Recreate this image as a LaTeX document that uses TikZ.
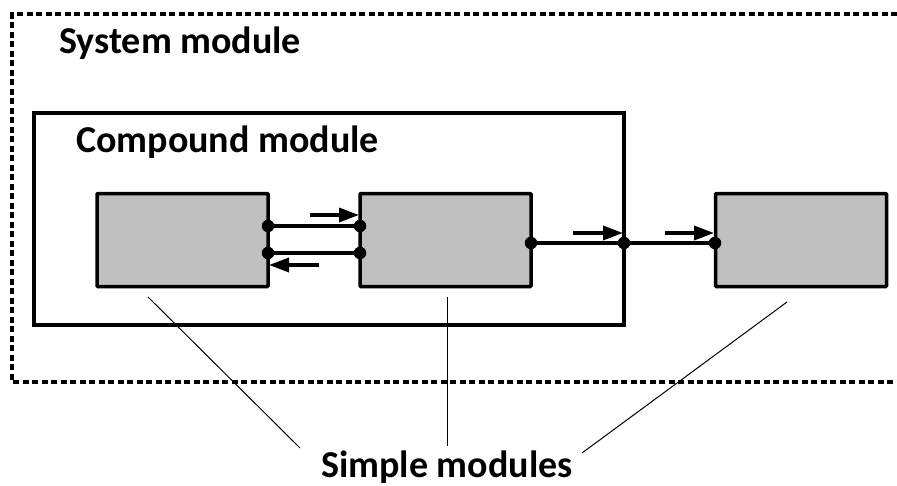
\documentclass[tikz,border=0pt]{standalone}
\usepackage{fontspec}
\setmainfont{Carlito}
\usetikzlibrary{arrows.meta}
\definecolor{boxgray}{RGB}{191,191,191}
\tikzset{
  simplebox/.style={draw=black, fill=boxgray, line width=3.5pt, minimum width=171pt, minimum height=93pt, inner sep=0pt, rounded corners=0.8pt},
  conn/.style={line width=3.5pt},
  flowarrow/.style={line width=3.5pt, -{Triangle[length=20pt,width=14pt]}},
  gate/.style={circle, fill=black, inner sep=0pt, minimum size=12.5pt},
  pointer/.style={line width=1pt},
  title/.style={font=\bfseries\fontsize{38}{42}\selectfont, inner sep=0pt},
}
\begin{document}
\begin{tikzpicture}[x=1pt,y=-1pt]
\useasboundingbox (0,0) rectangle (897,485);
% system module (dashed, open to the right)
\draw[line width=3.5pt, dash pattern=on 6pt off 3.5pt] (897,14) -- (12,14) -- (12,382) -- (897,382);
\node[title, anchor=base west] (systxt) at (59,53) {System module};
% compound module
\draw[line width=3.5pt] (34,113) rectangle (624,325);
\coordinate (cmp) at (34,113);
\node[title, anchor=base west] (cmptxt) at (76,152) {Compound module};
% simple modules
\node[simplebox] (s1) at (182.5,240) {};
\node[simplebox] (s2) at (445.5,240) {};
\node[simplebox] (s3) at (801,240) {};
% gates
\node[gate] (g1a) at (268,226) {};
\node[gate] (g1b) at (268,253) {};
\node[gate] (g2a) at (360,226) {};
\node[gate] (g2b) at (360,253) {};
\node[gate] (g2o) at (531,243) {};
\node[gate] (gc) at (624,243) {};
\node[gate] (g3i) at (715,243) {};
% connections
\draw[conn] (g1a.center) -- (g2a.center);
\draw[conn] (g1b.center) -- (g2b.center);
\draw[conn] (g2o.center) -- (gc.center);
\draw[conn] (gc.center) -- (g3i.center);
% direction arrows
\coordinate (a1s) at (310,215); \coordinate (a1e) at (359,215);
\coordinate (a2s) at (319,265); \coordinate (a2e) at (269,265);
\coordinate (a3s) at (573,233); \coordinate (a3e) at (623,233);
\coordinate (a4s) at (665,233); \coordinate (a4e) at (714,233);
\draw[flowarrow] (a1s) -- (a1e);
\draw[flowarrow] (a2s) -- (a2e);
\draw[flowarrow] (a3s) -- (a3e);
\draw[flowarrow] (a4s) -- (a4e);
% label and pointers
\node[title, anchor=base] (lbl) at (447,477) {Simple modules};
\coordinate (p1s) at (148,297); \coordinate (p1e) at (300,448);
\coordinate (p2s) at (447,297); \coordinate (p2e) at (447,446);
\coordinate (p3s) at (787,302); \coordinate (p3e) at (582,453);
\draw[pointer] (p1s) -- (p1e);
\draw[pointer] (p2s) -- (p2e);
\draw[pointer] (p3s) -- (p3e);
\end{tikzpicture}
\end{document}
